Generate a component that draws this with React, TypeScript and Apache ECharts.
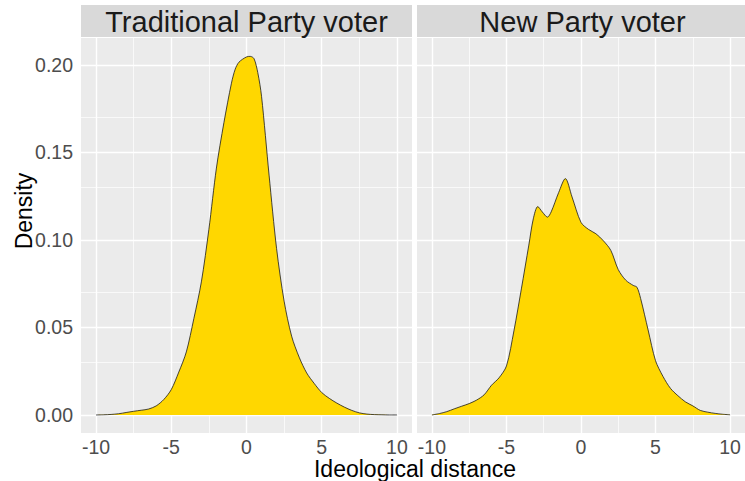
import { useEffect, useRef } from "react";
import * as echarts from "echarts";

const panels = ["Traditional Party voter", "New Party voter"];
const xTicks = [-10, -5, 0, 5, 10];
const xMinor = [-7.5, -2.5, 2.5, 7.5];
const yTicks = [0, 0.05, 0.1, 0.15, 0.2];
const yMinor = [0.025, 0.075, 0.125, 0.175];

const tradX = [-10, -9.5, -9, -8.5, -8, -7.5, -7, -6.5, -6, -5.5, -5, -4.5, -4, -3.5, -3, -2.5, -2, -1.5, -1, -0.75, -0.5, 0, 0.25, 0.5, 0.75, 1, 1.5, 2, 2.5, 3, 3.5, 4, 4.5, 5, 5.5, 6, 6.5, 7, 7.5, 8, 8.5, 9, 9.5, 10];
const tradY = [0, 0.0001, 0.0003, 0.0007, 0.0014, 0.0021, 0.0027, 0.0034, 0.0052, 0.0088, 0.0145, 0.0245, 0.036, 0.055, 0.076, 0.106, 0.141, 0.167, 0.1895, 0.1975, 0.2015, 0.2045, 0.2048, 0.2035, 0.1955, 0.182, 0.137, 0.095, 0.065, 0.045, 0.033, 0.024, 0.018, 0.0128, 0.0095, 0.0068, 0.0045, 0.0026, 0.0012, 0.0005, 0.0002, 0.0001, 0, 0];

const newX = [-10, -9.5, -9, -8.5, -8, -7.5, -7, -6.5, -6, -5.5, -5, -4.5, -4, -3.5, -3.2, -2.9, -2.6, -2.25, -2, -1.5, -1.05, -0.6, 0, 0.5, 1, 1.5, 2, 2.5, 3, 3.5, 3.75, 4, 4.5, 5, 5.5, 6, 6.5, 7, 7.5, 8, 8.5, 9, 9.5, 10];
const newY = [0, 0.0008, 0.0019, 0.0035, 0.005, 0.0065, 0.0085, 0.0115, 0.017, 0.0212, 0.028, 0.048, 0.072, 0.097, 0.112, 0.119, 0.116, 0.113, 0.116, 0.127, 0.135, 0.1245, 0.11, 0.106, 0.1035, 0.0995, 0.094, 0.083, 0.077, 0.074, 0.073, 0.0665, 0.0486, 0.031, 0.022, 0.0152, 0.011, 0.0075, 0.0052, 0.0026, 0.0016, 0.0009, 0.0004, 0.0001];

const FONT = '"Liberation Sans", Arial, sans-serif';

export default function App() {
  const ref = useRef<HTMLDivElement>(null);
  useEffect(() => {
    if (!ref.current) return;
    const chart = echarts.init(ref.current, null, { renderer: "svg" });
    const gridLefts = [81, 417];
    const gridW = 331;
    const grids = gridLefts.map((l) => ({
      left: l,
      top: 38,
      width: gridW,
      height: 395,
      show: true,
      backgroundColor: "#EBEBEB",
      borderWidth: 0,
    }));
    const xAxes = [0, 1].map((i) => ({
      type: "value",
      gridIndex: i,
      min: -11,
      max: 11,
      splitLine: { show: false },
      axisLine: { show: false },
      axisTick: { show: true, customValues: xTicks, length: 4, lineStyle: { color: "#333333", width: 1 } },
      axisLabel: { customValues: xTicks, fontSize: 19.5, lineHeight: 18, color: "#4D4D4D", margin: 5, fontFamily: FONT },
    }));
    const yAxes = [0, 1].map((i) => ({
      type: "value",
      gridIndex: i,
      min: -0.0103,
      max: 0.2153,
      splitLine: { show: false },
      axisLine: { show: false },
      axisTick: { show: i === 0, customValues: yTicks, length: 4, lineStyle: { color: "#333333", width: 1 } },
      axisLabel: {
        show: i === 0,
        customValues: yTicks,
        fontSize: 19.5,
        color: "#4D4D4D",
        margin: 8,
        fontFamily: FONT,
        formatter: (v: number) => v.toFixed(2),
      },
    }));
    const gridLineData = [
      ...xMinor.map((v) => ({ xAxis: v, lineStyle: { color: "#FFFFFF", width: 0.7, type: "solid" } })),
      ...yMinor.map((v) => ({ yAxis: v, lineStyle: { color: "#FFFFFF", width: 0.7, type: "solid" } })),
      ...xTicks.map((v) => ({ xAxis: v, lineStyle: { color: "#FFFFFF", width: 1.4, type: "solid" } })),
      ...yTicks.map((v) => ({ yAxis: v, lineStyle: { color: "#FFFFFF", width: 1.4, type: "solid" } })),
    ];
    const gridSeries = [0, 1].map((i) => ({
      type: "line",
      xAxisIndex: i,
      yAxisIndex: i,
      data: [],
      z: 1,
      silent: true,
      markLine: {
        silent: true,
        z: 1,
        symbol: "none",
        label: { show: false },
        animation: false,
        data: gridLineData,
      },
    }));
    const dens = [
      tradX.map((x, k) => [x, tradY[k]]),
      newX.map((x, k) => [x, newY[k]]),
    ];
    const areaSeries = [0, 1].map((i) => ({
      type: "line",
      xAxisIndex: i,
      yAxisIndex: i,
      data: dens[i],
      z: 3,
      showSymbol: false,
      smooth: 0.3,
      lineStyle: { color: "#1A1A1A", width: 0.8 },
      areaStyle: { color: "#FFD700", opacity: 1 },
    }));
    const graphics: any[] = [];
    gridLefts.forEach((l, i) => {
      graphics.push({
        type: "rect",
        shape: { x: l, y: 5, width: gridW, height: 32 },
        style: { fill: "#D9D9D9" },
      });
      graphics.push({
        type: "text",
        x: l + gridW / 2,
        y: 22,
        style: {
          text: panels[i],
          fontSize: 29,
          fontFamily: FONT,
          fill: "#1A1A1A",
          align: "center",
          verticalAlign: "middle",
        },
      });
    });
    graphics.push({
      type: "text",
      x: 415,
      y: 469,
      style: {
        text: "Ideological distance",
        fontSize: 23,
        lineHeight: 20,
        fontFamily: FONT,
        fill: "#000000",
        align: "center",
        verticalAlign: "middle",
      },
    });
    graphics.push({
      type: "text",
      x: 24,
      y: 211,
      rotation: Math.PI / 2,
      style: {
        text: "Density",
        fontSize: 23,
        fontFamily: FONT,
        fill: "#000000",
        align: "center",
        verticalAlign: "middle",
      },
    });
    chart.setOption({
      animation: false,
      backgroundColor: "#FFFFFF",
      grid: grids,
      xAxis: xAxes,
      yAxis: yAxes,
      series: [...gridSeries, ...areaSeries],
      graphic: graphics,
    } as any);
    return () => chart.dispose();
  }, []);
  return (
    <div
      ref={ref}
      style={{ position: "fixed", left: 0, top: 0, width: 745, height: 481 }}
    />
  );
}
